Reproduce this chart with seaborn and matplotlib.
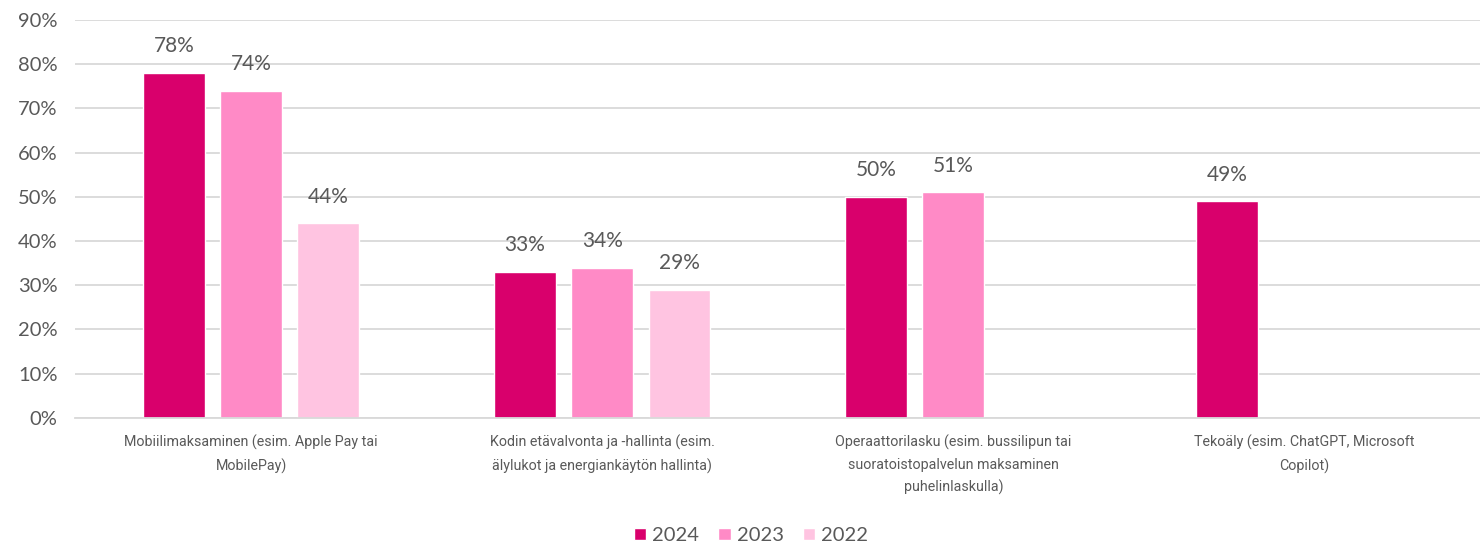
import numpy as np
import pandas as pd
import seaborn as sns
import matplotlib.pyplot as plt
from matplotlib.ticker import PercentFormatter

categories = [
    "Mobiilimaksaminen (esim. Apple Pay tai\nMobilePay)",
    "Kodin etävalvonta ja -hallinta (esim.\nälylukot ja energiankäytön hallinta)",
    "Operaattorilasku (esim. bussilipun tai\nsuoratoistopalvelun maksaminen\npuhelinlaskulla)",
    "Tekoäly (esim. ChatGPT, Microsoft\nCopilot)",
]
years = ["2024", "2023", "2022"]
v2024 = [78, 33, 50, 49]
v2023 = [74, 34, 51, np.nan]
v2022 = [44, 29, np.nan, np.nan]
colors = ["#D9006C", "#FF8AC6", "#FFC4E1"]

rows = []
for yr, vals in zip(years, [v2024, v2023, v2022]):
    for c, v in zip(categories, vals):
        rows.append({"kategoria": c, "vuosi": yr, "arvo": v})
df = pd.DataFrame(rows)

sns.set_theme(style="white")
plt.rcParams["font.family"] = ["Lato", "DejaVu Sans"]
txt = "#595959"

fig = plt.figure(figsize=(14.8, 5.44), dpi=100)
ax = fig.add_axes([0.051, 0.232, 0.949, 0.731])
sns.barplot(data=df, x="kategoria", y="arvo", hue="vuosi", hue_order=years,
            palette=colors, width=0.66, gap=0.2, ax=ax, saturation=1, legend=True)

for cont in ax.containers:
    labels = ["" if np.isnan(v) else f"{v:.0f}%" for v in cont.datavalues]
    ax.bar_label(cont, labels=labels, padding=12, fontsize=15, color=txt)

ax.set_ylim(0, 90)
ax.set_yticks(range(0, 91, 10))
ax.yaxis.set_major_formatter(PercentFormatter(decimals=0))
ax.set_xlim(-0.5, 3.5)
ax.grid(axis="y", color="#D9D9D9", linewidth=1.3)
ax.set_axisbelow(True)
for s in ax.spines.values():
    s.set_visible(False)
ax.spines["bottom"].set_visible(True)
ax.spines["bottom"].set_color("#D9D9D9")
ax.spines["bottom"].set_linewidth(1.3)
ax.tick_params(axis="y", labelsize=14.5, labelcolor=txt, length=0, pad=13)
ax.tick_params(axis="x", labelsize=10.3, labelcolor=txt, length=0, pad=12)
ax.set_xlabel("")
ax.set_ylabel("")
for lab in ax.get_xticklabels():
    lab.set_family(["Roboto", "DejaVu Sans"])
    lab.set_linespacing(1.7)

ax.legend(loc="center", bbox_to_anchor=(0.481, -0.296), ncol=3,
          frameon=False, fontsize=14.5, handlelength=0.6, handleheight=0.6,
          handletextpad=0.3, columnspacing=0.95, labelcolor=txt)

fig.savefig("out.png", dpi=100)
